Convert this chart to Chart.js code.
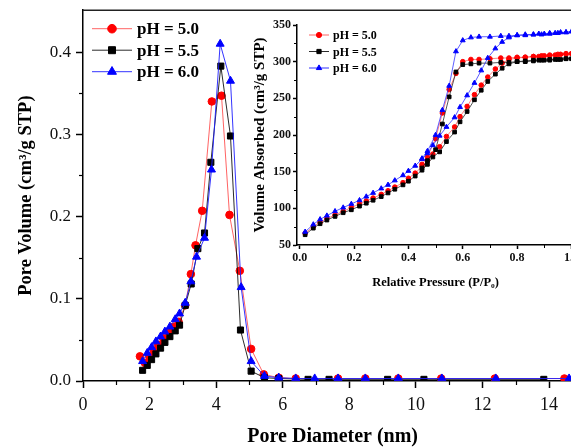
<!DOCTYPE html>
<html><head><meta charset="utf-8">
<script src="https://cdn.jsdelivr.net/npm/chart.js@4.4.1/dist/chart.umd.min.js"></script>
<style>
html,body{margin:0;padding:0;background:#fff;overflow:hidden;width:571px;height:447px;position:relative;}
#c1{position:absolute;left:0;top:-5px;}
#c2{position:absolute;left:250px;top:0;}
</style></head><body>
<canvas id="c1" width="588" height="452" style="width:588px;height:452px"></canvas>
<canvas id="c2" width="331" height="300" style="width:331px;height:300px"></canvas>
<script>
// ---------- Main chart data (pore size distribution) ----------
const seriesLabels = ['pH = 5.0', 'pH = 5.5', 'pH = 6.0'];

const poreDiam50 = [1.71, 1.86, 1.99, 2.13, 2.26, 2.41, 2.56, 2.72, 2.87, 3.07, 3.24, 3.38, 3.58, 3.87, 4.16, 4.40, 4.71, 5.05, 5.43, 5.88, 6.39, 7.66, 8.48, 9.47, 10.76, 12.37, 14.46];
const poreVol50  = [0.030, 0.022, 0.030, 0.037, 0.044, 0.052, 0.060, 0.066, 0.072, 0.092, 0.130, 0.165, 0.207, 0.340, 0.347, 0.202, 0.134, 0.039, 0.008, 0.004, 0.003, 0.003, 0.003, 0.003, 0.003, 0.003, 0.003];

const poreDiam55 = [1.79, 1.93, 2.06, 2.19, 2.33, 2.46, 2.61, 2.77, 2.90, 3.07, 3.25, 3.45, 3.65, 3.84, 4.14, 4.43, 4.73, 5.05, 5.45, 5.88, 6.76, 7.39, 9.15, 10.24, 13.84];
const poreVol55  = [0.013, 0.019, 0.026, 0.033, 0.040, 0.047, 0.054, 0.061, 0.068, 0.092, 0.118, 0.161, 0.180, 0.266, 0.383, 0.298, 0.062, 0.012, 0.004, 0.003, 0.002, 0.002, 0.002, 0.002, 0.002];

const poreDiam60 = [1.79, 1.93, 2.06, 2.19, 2.33, 2.46, 2.61, 2.77, 2.90, 3.07, 3.24, 3.41, 3.65, 3.86, 4.12, 4.43, 4.75, 5.05, 5.45, 5.88, 6.39, 6.96, 7.66, 8.48, 9.47, 10.78, 12.40, 14.60];
const poreVol60  = [0.024, 0.034, 0.041, 0.048, 0.054, 0.060, 0.066, 0.075, 0.082, 0.095, 0.121, 0.151, 0.174, 0.257, 0.410, 0.365, 0.114, 0.024, 0.006, 0.004, 0.003, 0.003, 0.003, 0.003, 0.003, 0.003, 0.003, 0.003];

const mainXTicks = [0, 2, 4, 6, 8, 10, 12, 14];
const mainYTicks = [0.0, 0.1, 0.2, 0.3, 0.4];

// ---------- Inset data (N2 isotherms) ----------
const pAds = [0.02, 0.05, 0.075, 0.10, 0.13, 0.16, 0.19, 0.22, 0.245, 0.27, 0.30, 0.325, 0.35, 0.38, 0.40, 0.425, 0.45, 0.47, 0.49, 0.515, 0.54, 0.57, 0.59, 0.616, 0.643, 0.668, 0.692, 0.72, 0.745, 0.77, 0.80, 0.83, 0.86, 0.88, 0.90, 0.92, 0.94, 0.96, 0.98, 1.0];
const pDes = [0.98, 0.95, 0.92, 0.89, 0.86, 0.83, 0.80, 0.77, 0.74, 0.70, 0.66, 0.63, 0.60, 0.575, 0.55, 0.525, 0.50, 0.47, 0.45];

const ads50 = [66, 75, 81, 86, 91, 96, 101, 106, 110, 114, 119, 124, 129, 135, 141, 148, 157, 165, 174, 184, 198, 211, 225, 239, 255, 268, 279, 290, 298, 303, 305, 306, 307, 307, 308, 308, 309, 310, 310, 311];
const des50 = [311, 310, 309, 308, 307, 306, 306, 305, 305, 304, 303, 303, 300, 284, 262, 230, 195, 170, 160];

const ads55 = [64, 73, 79, 84, 89, 94, 98, 103, 107, 111, 116, 121, 126, 132, 137, 144, 152, 160, 170, 177, 191, 204, 218, 232, 248, 261, 273, 283, 291, 297, 300, 301, 302, 302, 302, 303, 303, 303, 304, 304];
const des55 = [304, 303, 302, 302, 301, 300, 300, 299, 299, 298, 298, 297, 296, 286, 252, 215, 180, 165, 155];

const ads60 = [68, 78, 85, 90, 96, 101, 106, 111, 116, 121, 127, 132, 138, 145, 151, 158, 167, 175, 186, 199, 211, 224, 238, 254, 271, 288, 305, 318, 327, 333, 336, 337, 337, 338, 338, 339, 339, 340, 340, 341];
const des60 = [340, 339, 338, 337, 337, 336, 336, 335, 335, 334, 334, 333, 329, 314, 267, 234, 200, 178, 168];

const insetXTicks = [0.0, 0.2, 0.4, 0.6, 0.8, 1.0];
const insetYTicks = [50, 100, 150, 200, 250, 300, 350];

// ---------- styles ----------
const SERIF = '"Liberation Serif", "Times New Roman", Times, serif';
const colors = ['#ff0000', '#000000', '#0000ff'];
const lineColors = ['rgba(255,60,60,0.8)', 'rgba(20,20,20,0.9)', 'rgba(30,30,255,0.9)'];
const styles = ['circle', 'rect', 'triangle'];

function pts(xs, ys) { return xs.map((x, i) => ({ x: x, y: ys[i] })); }
function isoPts(ads, des) { return pts(pAds, ads).concat(pts(pDes, des)); }

// minor ticks plugin (drawn at scale positions)
const minorTicks = {
  id: 'minorTicks',
  afterDraw(chart, args, opts) {
    const ctx = chart.ctx;
    const xs = chart.scales.x, ys = chart.scales.y;
    ctx.save();
    ctx.strokeStyle = '#000';
    ctx.lineWidth = opts.width || 1.2;
    const len = opts.len || 4;
    const xt = opts.xTicks;
    for (let i = 0; i < xt.length - 1; i++) {
      const px = Math.round(xs.getPixelForValue((xt[i] + xt[i + 1]) / 2)) + 0.5;
      ctx.beginPath(); ctx.moveTo(px, xs.top); ctx.lineTo(px, xs.top + len); ctx.stroke();
    }
    const yt = opts.yTicks;
    for (let i = 0; i < yt.length - 1; i++) {
      const py = Math.round(ys.getPixelForValue((yt[i] + yt[i + 1]) / 2)) + 0.5;
      ctx.beginPath(); ctx.moveTo(ys.right, py); ctx.lineTo(ys.right - len, py); ctx.stroke();
    }
    ctx.restore();
  }
};

// frame top line
const topFrame = {
  id: 'topFrame',
  afterDraw(chart, args, opts) {
    if (!opts.show) return;
    const a = chart.chartArea, ctx = chart.ctx;
    ctx.save(); ctx.strokeStyle = '#222'; ctx.lineWidth = 1.5;
    ctx.beginPath(); ctx.moveTo(a.left, a.top); ctx.lineTo(a.right, a.top); ctx.stroke();
    ctx.restore();
  }
};

// in-plot legend (line - marker - line + label)
const inLegend = {
  id: 'inLegend',
  afterDraw(chart, args, o) {
    const a = chart.chartArea, ctx = chart.ctx;
    ctx.save();
    chart.data.datasets.forEach((ds, i) => {
      const cx = a.left + o.dx, cy = a.top + o.dy + i * o.step;
      ctx.strokeStyle = ds.borderColor; ctx.lineWidth = 1;
      ctx.beginPath(); ctx.moveTo(cx - o.half, cy); ctx.lineTo(cx + o.half, cy); ctx.stroke();
      ctx.fillStyle = ds.pointBackgroundColor; ctx.strokeStyle = ds.pointBorderColor; ctx.lineWidth = 1;
      Chart.helpers.drawPoint(ctx, { pointStyle: ds.pointStyle, radius: o.radius * (ds.pointStyle === 'triangle' ? 1.2 : ds.pointStyle === 'rect' ? 1.15 : 1), rotation: 0, borderWidth: 1 }, cx, cy);
      ctx.fillStyle = '#000';
      ctx.font = o.font;
      ctx.textBaseline = 'middle'; ctx.textAlign = 'left';
      ctx.fillText(ds.label, cx + o.half + o.gap, cy + 1);
    });
    ctx.restore();
  }
};

function makeDatasets(dataArr, rad, lw) {
  return dataArr.map((d, i) => ({
    label: seriesLabels[i],
    data: d,
    showLine: true,
    borderColor: lineColors[i],
    borderWidth: lw,
    pointBackgroundColor: colors[i],
    pointBorderColor: colors[i],
    pointBorderWidth: 1,
    pointStyle: styles[i],
    pointRadius: rad[i],
    tension: 0,
    order: 3 - i
  }));
}

const axisCommon = (tl) => ({
  grid: { display: true, drawOnChartArea: false, drawTicks: true, tickLength: tl, tickWidth: 1.5, tickColor: '#000' },
  border: { display: true, color: '#000', width: 1.5 }
});

// ---------- Main chart ----------
new Chart(document.getElementById('c1'), {
  type: 'scatter',
  data: { datasets: makeDatasets([pts(poreDiam50, poreVol50), pts(poreDiam55, poreVol55), pts(poreDiam60, poreVol60)], [3.8, 4.3, 4.6], 1) },
  options: {
    responsive: false, animation: false, devicePixelRatio: 1,
    layout: { padding: { top: 10, left: 0, right: 0, bottom: 0 } },
    plugins: {
      legend: { display: false }, tooltip: { enabled: false },
      minorTicks: { len: 4, xTicks: mainXTicks, yTicks: mainYTicks },
      topFrame: { show: true },
      inLegend: { dx: 29, dy: 18.5, step: 21.5, half: 20, gap: 5, radius: 4.3, font: 'bold 17px ' + SERIF }
    },
    scales: {
      x: Object.assign(axisCommon(7), {
        type: 'linear', min: 0, max: 15,
        afterFit(s) { s.height = 66; },
        afterBuildTicks(s) { s.ticks = mainXTicks.map(v => ({ value: v })); },
        ticks: { font: { family: SERIF, size: 18 }, color: '#111', padding: 6, maxRotation: 0, includeBounds: false, callback: v => String(v) },
        title: { display: true, text: 'Pore Diameter (nm)', color: '#000', font: { family: SERIF, size: 20, weight: 'bold', lineHeight: 1 }, padding: { top: 0, bottom: 0 } }
      }),
      y: Object.assign(axisCommon(7), {
        type: 'linear', min: 0, max: 0.451,
        afterFit(s) { s.width = 83; },
        afterBuildTicks(s) { s.ticks = mainYTicks.map(v => ({ value: v })); },
        ticks: { font: { family: SERIF, size: 17 }, color: '#111', padding: 5, includeBounds: false, callback: v => v.toFixed(1) },
        title: { display: true, text: 'Pore Volume (cm³/g STP)', color: '#000', font: { family: SERIF, size: 18.5, weight: 'bold', lineHeight: 1 }, padding: { top: 17, bottom: 0 } }
      })
    }
  },
  plugins: [minorTicks, topFrame, inLegend]
});

// ---------- Inset chart ----------
new Chart(document.getElementById('c2'), {
  type: 'scatter',
  data: { datasets: makeDatasets([isoPts(ads50, des50), isoPts(ads55, des55), isoPts(ads60, des60)], [2.3, 2.6, 2.8], 0.8) },
  options: {
    responsive: false, animation: false, devicePixelRatio: 1,
    layout: { padding: { top: 25, left: 0, right: 0, bottom: 0 } },
    plugins: {
      legend: { display: false }, tooltip: { enabled: false },
      minorTicks: { len: 3, width: 1, xTicks: insetXTicks, yTicks: insetYTicks },
      topFrame: { show: false },
      inLegend: { dx: 22, dy: 10, step: 16.5, half: 10, gap: 4, radius: 2.6, font: 'bold 12px ' + SERIF }
    },
    scales: {
      x: Object.assign(axisCommon(4), {
        type: 'linear', min: -0.01, max: 1.01,
        afterFit(s) { s.height = 55; },
        afterBuildTicks(s) { s.ticks = insetXTicks.map(v => ({ value: v })); },
        ticks: { font: { family: SERIF, size: 12, weight: 'bold' }, color: '#111', padding: 2, maxRotation: 0, includeBounds: false, callback: v => v.toFixed(1) },
        title: { display: true, text: 'Relative Pressure (P/P₀)', color: '#000', font: { family: SERIF, size: 12.5, weight: 'bold', lineHeight: 1 }, padding: { top: 0, bottom: 11 } }
      }),
      y: Object.assign(axisCommon(4), {
        type: 'linear', min: 50, max: 350,
        afterFit(s) { s.width = 47; },
        afterBuildTicks(s) { s.ticks = insetYTicks.map(v => ({ value: v })); },
        ticks: { font: { family: SERIF, size: 12, weight: 'bold' }, color: '#111', padding: 2, includeBounds: false, callback: v => String(v) },
        title: { display: true, text: 'Volume Absorbed (cm³/g STP)', color: '#000', font: { family: SERIF, size: 15, weight: 'bold', lineHeight: 1 }, padding: { top: 3, bottom: 0 } }
      })
    }
  },
  plugins: [minorTicks, topFrame, inLegend]
});
</script>
</body></html>
